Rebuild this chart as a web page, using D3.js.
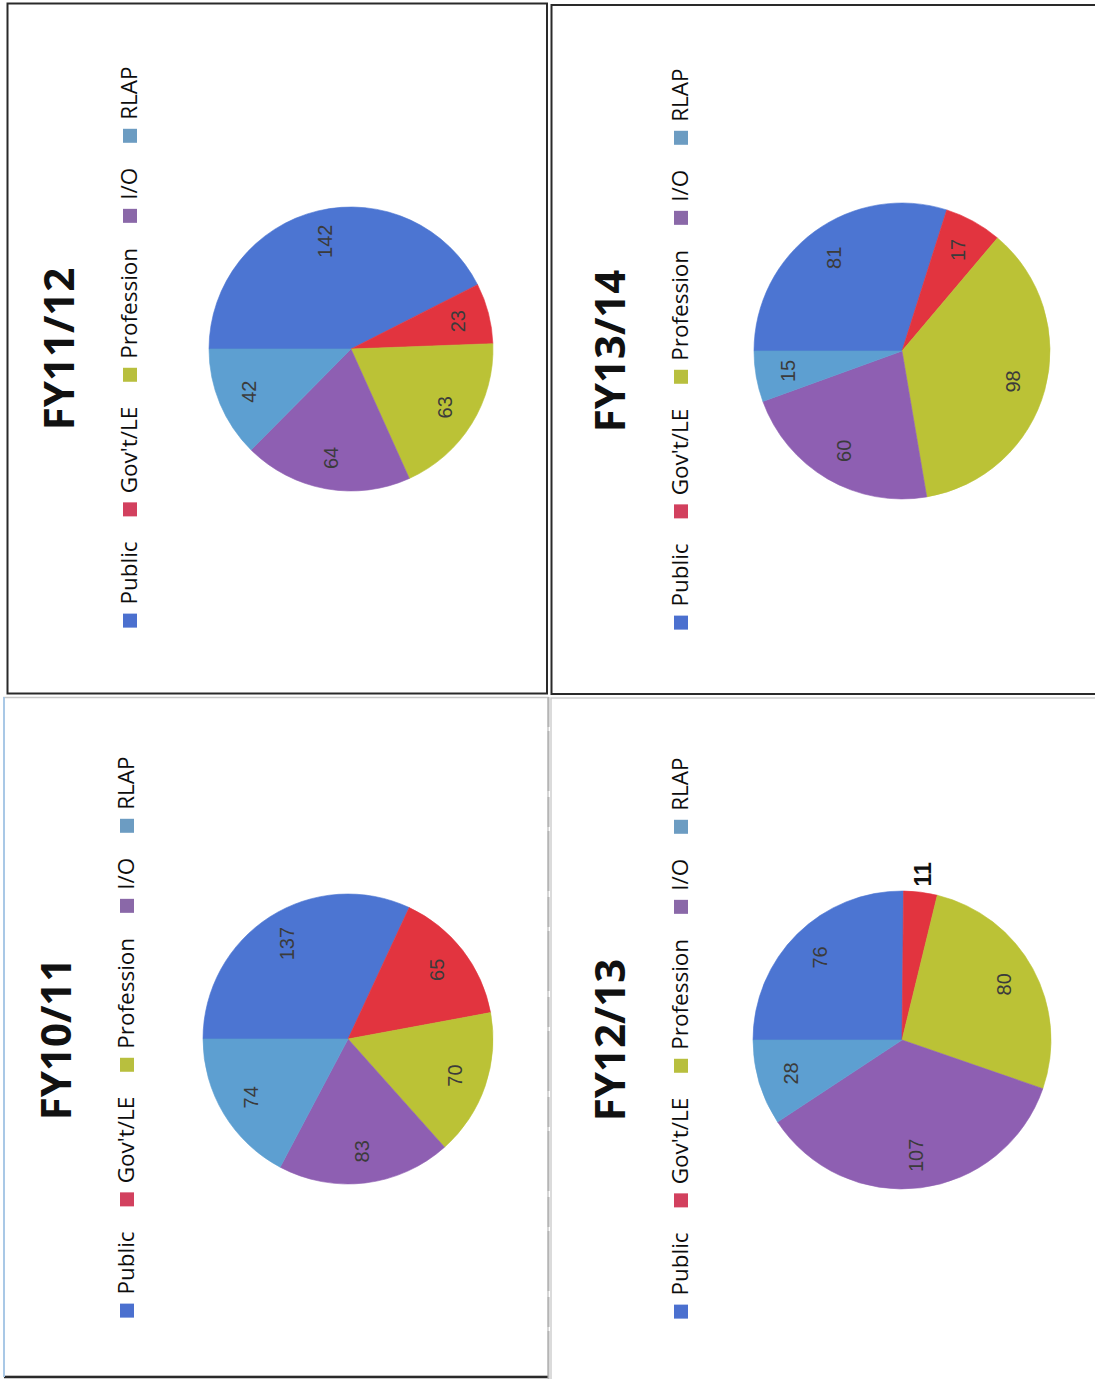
<!DOCTYPE html>
<html>
<head>
<meta charset="utf-8">
<script src="https://cdn.jsdelivr.net/npm/d3@7"></script>
<style>
  html, body { margin: 0; padding: 0; background: #ffffff; }
  svg { display: block; }
</style>
</head>
<body>
<div id="chart"></div>
<script>
// Enquiry sources per financial year
const categories = ["Public", "Gov't/LE", "Profession", "I/O", "RLAP"];
const sliceColors = ["#4c75d2", "#e2343f", "#bbc236", "#8e5fb2", "#5d9fd1"];
const legendColors = ["#4b70cf", "#d2405e", "#b8bf3e", "#8a68a8", "#6c9cc2"];

const years = ["FY11/12", "FY13/14", "FY10/11", "FY12/13"];
const fy1112 = [142, 23, 63, 64, 42];
const fy1314 = [81, 17, 98, 60, 15];
const fy1011 = [137, 65, 70, 83, 74];
const fy1213 = [76, 11, 80, 107, 28];
const seriesByYear = { "FY11/12": fy1112, "FY13/14": fy1314, "FY10/11": fy1011, "FY12/13": fy1213 };

// Page geometry for each framed panel (the page is set sideways)
const panels = [
  { year: "FY11/12", box: [7.5, 3.5, 539.5, 690], stroke: "#2a2a2a", width: 2, cx: 351, cy: 349, r: 142 },
  { year: "FY13/14", box: [551.5, 5, 560, 689], stroke: "#2a2a2a", width: 2, cx: 902, cy: 351, r: 148 },
  { year: "FY10/11", box: [4, 697.5, 544, 679], stroke: "#c9c9c9", width: 1.5, cx: 348, cy: 1039, r: 145 },
  { year: "FY12/13", box: [551, 698, 560, 690], stroke: "#cfcfcf", width: 1.5, cx: 902, cy: 1040, r: 149 }
];

const W = 1095, H = 1379;
const svg = d3.select("#chart").append("svg")
  .attr("width", W).attr("height", H)
  .style("background", "#ffffff");

// Panel frames
svg.selectAll("rect.frame").data(panels).join("rect")
  .attr("class", "frame")
  .attr("x", d => d.box[0]).attr("y", d => d.box[1])
  .attr("width", d => d.box[2]).attr("height", d => d.box[3])
  .attr("fill", "none")
  .attr("stroke", d => d.stroke)
  .attr("stroke-width", d => d.width);

// darker rule along the foot of the lower-left frame and tinted left edge
svg.append("line").attr("x1", 4).attr("x2", 548).attr("y1", 1377).attr("y2", 1377)
  .attr("stroke", "#2a2a2a").attr("stroke-width", 2.5);
svg.append("line").attr("x1", 4).attr("x2", 4).attr("y1", 697).attr("y2", 1377)
  .attr("stroke", "#a9c8e6").attr("stroke-width", 2);
svg.append("line").attr("x1", 548.5).attr("x2", 548.5).attr("y1", 697).attr("y2", 1379)
  .attr("stroke", "#b5b5b5").attr("stroke-width", 2).attr("stroke-dasharray", "30 4 60 6");

const pie = d3.pie().sort(null).value(d => d.value);

panels.forEach(p => {
  const values = seriesByYear[p.year];
  const rows = categories.map((c, i) => ({ cat: c, value: values[i], i }));
  const arcs = pie(rows);

  // Each chart is drawn upright, then turned a quarter turn anticlockwise
  const g = svg.append("g")
    .attr("transform", `translate(${p.cx},${p.cy}) rotate(-90)`);

  const arc = d3.arc().innerRadius(0).outerRadius(p.r);
  g.selectAll("path.slice").data(arcs).join("path")
    .attr("class", "slice")
    .attr("d", arc)
    .attr("fill", d => sliceColors[d.data.i])
    .attr("stroke", d => sliceColors[d.data.i])
    .attr("stroke-width", 0.6);

  // data labels: inside the slice, or just outside when the slice is thin
  const inner = d3.arc().innerRadius(p.r * 0.78).outerRadius(p.r * 0.78);
  const outer = d3.arc().innerRadius(p.r * 1.12).outerRadius(p.r * 1.12);
  g.selectAll("text.val").data(arcs).join("text")
    .attr("class", "val")
    .each(function (d) {
      const thin = (d.endAngle - d.startAngle) < 0.3;
      const [x, y] = (thin ? outer : inner).centroid(d);
      d3.select(this)
        .attr("x", x).attr("y", y)
        .attr("font-family", "'Liberation Sans', Arial, sans-serif")
        .attr("font-size", thin ? 23 : 20)
        .attr("font-weight", thin ? 700 : 400)
        .attr("fill", thin ? "#111111" : "#3b3b3b");
    })
    .attr("text-anchor", "middle")
    .attr("dominant-baseline", "central")
    .text(d => d.data.value);

  // title
  g.append("text")
    .attr("x", 0).attr("y", -277)
    .attr("text-anchor", "middle")
    .attr("font-family", "'Open Sans', sans-serif")
    .attr("font-weight", 700)
    .attr("font-size", 42)
    .attr("fill", "#111111")
    .text(p.year);

  // legend row, centred over the pie
  const lg = g.append("g");
  const sq = 14, gapIn = 9, gapOut = 25, baseY = -214;
  const items = categories.map((c, i) => {
    const t = lg.append("text")
      .attr("y", baseY)
      .attr("font-family", "'Open Sans', sans-serif")
      .attr("font-size", 22.5)
      .attr("fill", "#0d0d0d")
      .text(c);
    return { t, i, w: t.node().getComputedTextLength() };
  });
  const total = d3.sum(items, d => sq + gapIn + d.w) + gapOut * (items.length - 1);
  let x = -total / 2 + 2;
  items.forEach(d => {
    lg.append("rect")
      .attr("x", x).attr("y", baseY - sq)
      .attr("width", sq).attr("height", sq)
      .attr("fill", legendColors[d.i]);
    d.t.attr("x", x + sq + gapIn);
    x += sq + gapIn + d.w + gapOut;
  });
});
</script>
</body>
</html>
